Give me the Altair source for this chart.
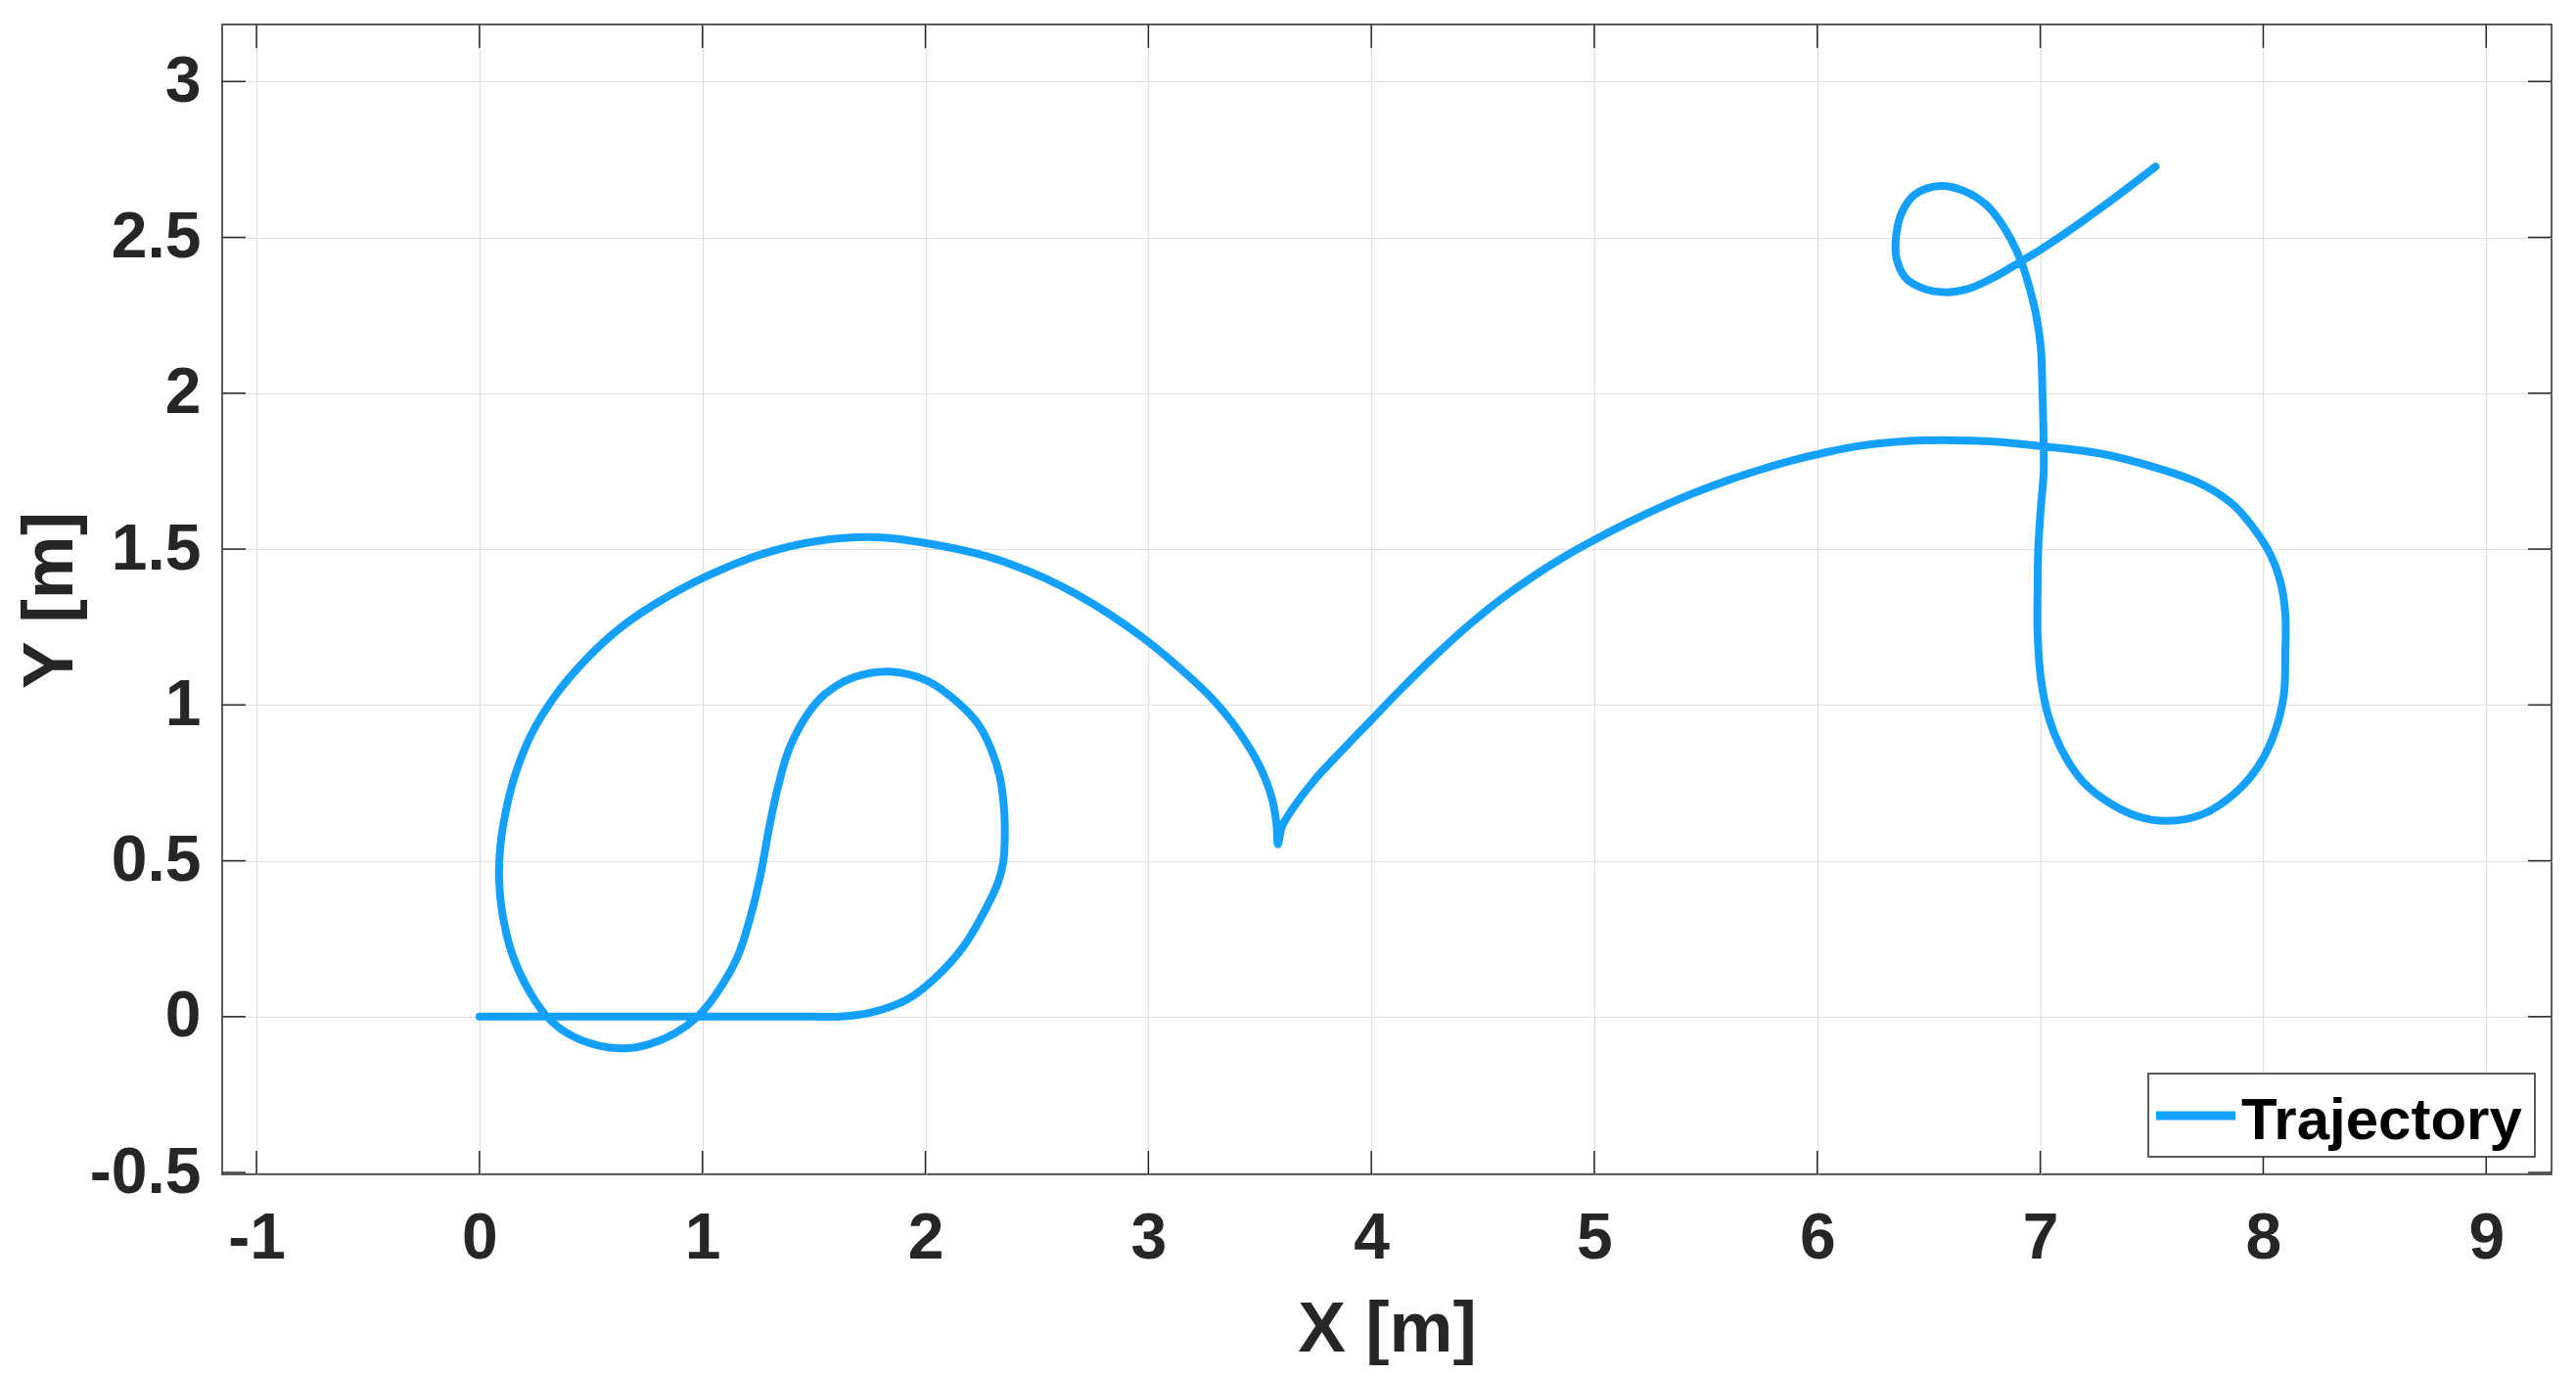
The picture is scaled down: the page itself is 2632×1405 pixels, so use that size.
import altair as alt
import pandas as pd

# ---- data (trajectory points, in path order) ----
traj_x = [0.0, 0.5, 1.0, 1.5, 1.62,
          1.76, 1.92, 2.05, 2.17, 2.27, 2.327, 2.349, 2.356, 2.353, 2.334, 2.298, 2.239, 2.15,
          2.01, 1.84, 1.68,
          1.55, 1.47, 1.39, 1.34, 1.30, 1.26, 1.22, 1.155, 1.057, 0.978, 0.88, 0.763, 0.646,
          0.509, 0.391, 0.303, 0.215, 0.147, 0.102, 0.088, 0.094, 0.121, 0.166, 0.235, 0.333,
          0.45, 0.607, 0.783, 1.018, 1.272, 1.526, 1.781, 1.996,
          2.239, 2.385, 2.532, 2.678, 2.824, 2.971, 3.117, 3.263, 3.337, 3.41, 3.483, 3.527,
          3.556, 3.574, 3.581, 3.6, 3.644,
          3.746, 3.863, 4.0, 4.139, 4.286, 4.432, 4.579, 4.725, 4.872, 5.018, 5.165, 5.311,
          5.458, 5.604, 5.751, 5.897, 6.044, 6.19, 6.4, 6.6, 6.806, 7.01, 7.288, 7.551, 7.697,
          7.785, 7.873, 7.96, 8.034, 8.077, 8.099, 8.099, 8.092, 8.048, 7.975, 7.873, 7.727,
          7.566, 7.434, 7.288, 7.186, 7.098, 7.039, 7.003, 6.988, 6.988, 6.991, 7.003, 7.015,
          7.015, 7.01, 7.002, 6.98, 6.951, 6.914, 6.841, 6.761, 6.658, 6.549, 6.439, 6.38,
          6.354, 6.355, 6.395, 6.468, 6.571, 6.673, 6.79, 6.914, 7.0, 7.112, 7.287, 7.517]
traj_y = [0.0, 0.0, 0.0, 0.0, 0.0,
          0.014, 0.056, 0.128, 0.224, 0.345, 0.433, 0.496, 0.58, 0.664, 0.768, 0.852, 0.936, 1.005,
          1.077, 1.107, 1.089,
          1.035, 0.969, 0.861, 0.741, 0.609, 0.453, 0.333, 0.188, 0.068, 0.0, -0.052, -0.088, -0.102,
          -0.088, -0.052, 0.0, 0.092, 0.2, 0.333, 0.44, 0.549, 0.669, 0.789, 0.909, 1.023,
          1.125, 1.233, 1.322, 1.413, 1.485, 1.527, 1.538, 1.520,
          1.484, 1.451, 1.408, 1.355, 1.292, 1.218, 1.133, 1.037, 0.979, 0.910, 0.826, 0.758,
          0.695, 0.622, 0.553, 0.611, 0.664,
          0.760, 0.850, 0.952, 1.055, 1.158, 1.253, 1.338, 1.412, 1.478, 1.536, 1.590, 1.639,
          1.683, 1.722, 1.756, 1.786, 1.811, 1.831, 1.846, 1.849, 1.844, 1.830, 1.804, 1.754, 1.717,
          1.684, 1.637, 1.564, 1.48, 1.396, 1.292, 1.166, 1.03, 0.905, 0.8, 0.717, 0.649,
          0.628, 0.643, 0.696, 0.758, 0.853, 0.957, 1.083, 1.229, 1.376, 1.501, 1.637, 1.742,
          1.846, 2.0, 2.151, 2.256, 2.34, 2.423, 2.528, 2.602, 2.649, 2.665, 2.638, 2.581,
          2.507, 2.434, 2.371, 2.338, 2.324, 2.334, 2.371, 2.423, 2.46, 2.513, 2.602, 2.727]

x_ticks = [-1, 0, 1, 2, 3, 4, 5, 6, 7, 8, 9]
y_ticks = [-0.5, 0, 0.5, 1, 1.5, 2, 2.5, 3]
x_domain = [-1.154, 9.293]
y_domain = [-0.506, 3.183]
x_title = "X [m]"
y_title = "Y [m]"
legend_label = "Trajectory"

# ---- styling ----
W, H = 2380, 1175
LINE = "#14A0FF"
AX = "#262626"
FONT = "Liberation Sans"
TICK = 24

traj = pd.DataFrame({"t": range(len(traj_x)), "x": traj_x, "y": traj_y})
xt_df = pd.DataFrame({"x": x_ticks})
yt_df = pd.DataFrame({"y": y_ticks})
leg_df = pd.DataFrame({"label": [legend_label]})

xs = alt.Scale(domain=x_domain, nice=False, zero=False)
ys = alt.Scale(domain=y_domain, nice=False, zero=False)

xaxis = alt.Axis(values=x_ticks, title=x_title, labelExpr="'' + datum.value",
                 labelFontSize=66, labelFontWeight="bold", labelColor=AX, labelFont=FONT,
                 labelPadding=33, labelFlush=False, labelOverlap=False,
                 titleFontSize=73, titleFontWeight="bold", titleColor=AX, titleFont=FONT,
                 titleX=W / 2, titleY=180, titleBaseline="alphabetic", titleAlign="center")
yaxis = alt.Axis(values=y_ticks, title=y_title, labelExpr="'' + datum.value",
                 labelFontSize=66, labelFontWeight="bold", labelColor=AX, labelFont=FONT,
                 labelPadding=22, labelFlush=False, labelOverlap=False,
                 titleFontSize=73, titleFontWeight="bold", titleColor=AX, titleFont=FONT,
                 titleX=-154, titleY=588, titleAngle=270, titleBaseline="alphabetic",
                 titleAlign="center")


def XE():
    return alt.X("x:Q", scale=xs, axis=xaxis)


def YE():
    return alt.Y("y:Q", scale=ys, axis=yaxis)


line = alt.Chart(traj).mark_line(color=LINE, strokeWidth=8, strokeCap="round",
                                 strokeJoin="round", interpolate="catmull-rom").encode(
    x=XE(), y=YE(), order=alt.Order("t:Q"))

tick_bottom = alt.Chart(xt_df).mark_rule(color=AX, strokeWidth=1.5).encode(
    x=XE(), y=alt.value(H), y2=alt.value(H - TICK))
tick_top = alt.Chart(xt_df).mark_rule(color=AX, strokeWidth=1.5).encode(
    x=XE(), y=alt.value(0), y2=alt.value(TICK))
tick_left = alt.Chart(yt_df).mark_rule(color=AX, strokeWidth=1.5).encode(
    y=YE(), x=alt.value(0), x2=alt.value(TICK))
tick_right = alt.Chart(yt_df).mark_rule(color=AX, strokeWidth=1.5).encode(
    y=YE(), x=alt.value(W), x2=alt.value(W - TICK))

leg_box = alt.Chart(leg_df).mark_rect(fill="white", stroke=AX, strokeWidth=1.5).encode(
    x=alt.value(1968), x2=alt.value(2363), y=alt.value(1072), y2=alt.value(1157))
leg_line = alt.Chart(leg_df).mark_rule(color=LINE, strokeWidth=9).encode(
    x=alt.value(1976), x2=alt.value(2057), y=alt.value(1115))
leg_text = alt.Chart(leg_df).mark_text(align="left", baseline="alphabetic", font=FONT,
                                       fontSize=60, fontWeight="bold", color="black").encode(
    x=alt.value(2063), y=alt.value(1139), text="label:N")

chart = alt.layer(
    line, tick_bottom, tick_top, tick_left, tick_right, leg_box, leg_line, leg_text
).properties(
    width=W, height=H,
    autosize=alt.AutoSizeParams(type="none"),
    padding={"left": 219, "top": 17, "right": 10, "bottom": 195},
).configure_view(
    stroke=AX, strokeWidth=1.5
).configure_axis(
    domain=False, ticks=False, grid=True, gridColor="#E0E0E0", gridWidth=1.2
)

chart.save("out.html", embed_options={"renderer": "svg", "actions": False})
